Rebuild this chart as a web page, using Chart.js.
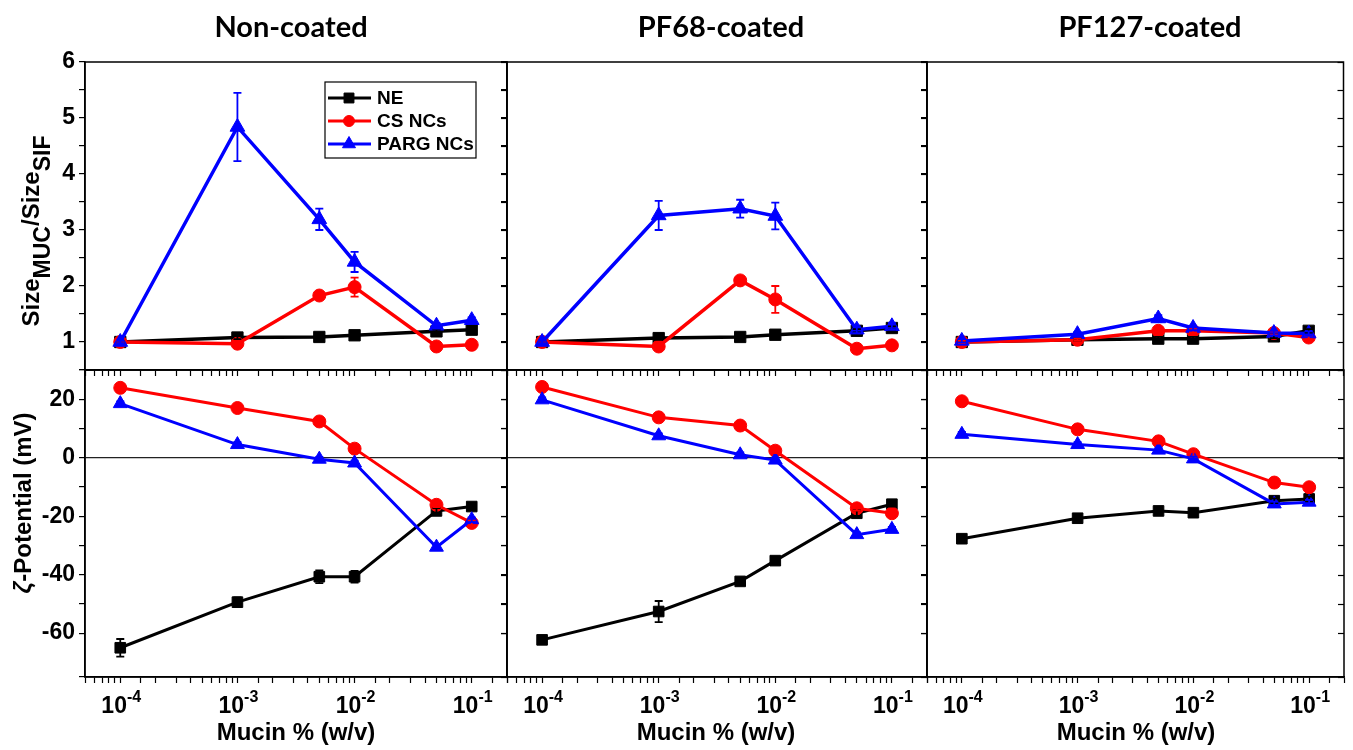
<!DOCTYPE html>
<html>
<head>
<meta charset="utf-8">
<script src="https://cdn.jsdelivr.net/npm/chart.js@4.4.0/dist/chart.umd.min.js"></script>
<style>
    body { margin: 0; background: #fff; }
    #wrap { position: relative; width: 1353px; height: 750px; overflow: hidden; }
    #wrap canvas { position: absolute; left: 0; top: 0; }
    .ptitle { position: absolute; top: 8px; line-height: 28px; font: bold 29px Lato, sans-serif; color: #000; transform: translateX(-50%); white-space: nowrap; }
    .xtitle { position: absolute; top: 718px; line-height: 24px; font: bold 24px Arial, "Liberation Sans", sans-serif; color: #000; transform: translateX(-50%); white-space: nowrap; }
    .ytitle { position: absolute; line-height: 24px; font: bold 24px Arial, "Liberation Sans", sans-serif; color: #000; transform: translate(-50%, -50%) rotate(-90deg); white-space: nowrap; }
    .ytitle sub { font-size: 23px; vertical-align: -11px; line-height: 0; }
</style>
</head>
<body>
<div id="wrap">
    <canvas id="c00" width="1353" height="750"></canvas>
    <canvas id="c10" width="1353" height="750"></canvas>
    <canvas id="c20" width="1353" height="750"></canvas>
    <canvas id="c01" width="1353" height="750"></canvas>
    <canvas id="c11" width="1353" height="750"></canvas>
    <canvas id="c21" width="1353" height="750"></canvas>

    <div class="ptitle" style="left:291px">Non-coated</div>
    <div class="ptitle" style="left:721px">PF68-coated</div>
    <div class="ptitle" style="left:1150px">PF127-coated</div>

    <div class="xtitle" style="left:296px">Mucin % (w/v)</div>
    <div class="xtitle" style="left:716px">Mucin % (w/v)</div>
    <div class="xtitle" style="left:1136px">Mucin % (w/v)</div>

    <div class="ytitle" style="left:31px; top:231px">Size<sub>MUC</sub>/Size<sub>SIF</sub></div>
    <div class="ytitle" style="left:23px; top:503px"><i>ζ</i>-Potential (mV)</div>
</div>

<script>
// x values (mucin concentration, % w/v)
const mucinConc = [1e-4, 1e-3, 5e-3, 1e-2, 5e-2, 1e-1];
const xTickExponents = [-4, -3, -2, -1];
const seriesLabels = ['NE', 'CS NCs', 'PARG NCs'];

// Size(MUC)/Size(SIF)
const sizeNonCoatedNE = [1.00, 1.08, 1.09, 1.12, 1.19, 1.22];
const sizeNonCoatedNEErr = [0.02, 0.03, 0.03, 0.03, 0.03, 0.03];
const sizeNonCoatedCS = [1.00, 0.97, 1.83, 1.98, 0.92, 0.95];
const sizeNonCoatedCSErr = [0.02, 0.03, 0.05, 0.17, 0.03, 0.03];
const sizeNonCoatedPARG = [1.00, 4.84, 3.19, 2.43, 1.29, 1.39];
const sizeNonCoatedPARGErr = [0.02, 0.61, 0.19, 0.18, 0.05, 0.05];

const sizePF68NE = [1.00, 1.07, 1.09, 1.13, 1.20, 1.25];
const sizePF68NEErr = [0.02, 0.03, 0.03, 0.03, 0.03, 0.03];
const sizePF68CS = [1.00, 0.92, 2.10, 1.76, 0.88, 0.94];
const sizePF68CSErr = [0.02, 0.03, 0.05, 0.24, 0.03, 0.03];
const sizePF68PARG = [1.00, 3.26, 3.38, 3.25, 1.22, 1.28];
const sizePF68PARGErr = [0.02, 0.26, 0.16, 0.24, 0.06, 0.06];

const sizePF127NE = [1.00, 1.04, 1.06, 1.06, 1.10, 1.20];
const sizePF127NEErr = [0.02, 0.02, 0.03, 0.03, 0.03, 0.03];
const sizePF127CS = [1.00, 1.04, 1.20, 1.20, 1.16, 1.08];
const sizePF127CSErr = [0.02, 0.02, 0.03, 0.03, 0.03, 0.03];
const sizePF127PARG = [1.02, 1.14, 1.42, 1.25, 1.16, 1.15];
const sizePF127PARGErr = [0.03, 0.04, 0.06, 0.04, 0.04, 0.04];

// zeta potential (mV)
const zetaNonCoatedNE = [-65.0, -49.4, -40.7, -40.7, -18.2, -16.7];
const zetaNonCoatedNEErr = [3.0, 1.6, 2.2, 2.0, 1.0, 0.8];
const zetaNonCoatedCS = [23.9, 17.0, 12.4, 3.1, -16.1, -22.3];
const zetaNonCoatedCSErr = [0.8, 0.8, 0.8, 0.8, 0.8, 0.8];
const zetaNonCoatedPARG = [18.5, 4.5, -0.5, -1.8, -30.6, -21.2];
const zetaNonCoatedPARGErr = [0.8, 0.8, 0.8, 0.8, 0.8, 0.8];

const zetaPF68NE = [-62.3, -52.6, -42.3, -35.2, -19.0, -15.9];
const zetaPF68NEErr = [0.8, 3.6, 0.8, 1.2, 1.0, 0.8];
const zetaPF68CS = [24.2, 13.8, 11.0, 2.4, -17.3, -19.0];
const zetaPF68CSErr = [0.8, 0.8, 0.8, 0.8, 0.8, 0.8];
const zetaPF68PARG = [19.8, 7.5, 1.0, -0.8, -26.3, -24.5];
const zetaPF68PARGErr = [0.8, 0.8, 0.8, 0.8, 0.8, 0.8];

const zetaPF127NE = [-27.7, -20.7, -18.2, -18.8, -14.7, -14.1];
const zetaPF127NEErr = [0.8, 0.8, 0.8, 0.8, 0.8, 0.8];
const zetaPF127CS = [19.3, 9.7, 5.6, 1.2, -8.5, -10.1];
const zetaPF127CSErr = [0.8, 0.8, 0.8, 0.8, 0.8, 0.8];
const zetaPF127PARG = [8.0, 4.5, 2.6, -0.4, -15.8, -15.2];
const zetaPF127PARGErr = [0.8, 0.8, 0.8, 0.8, 0.8, 0.8];

const sizeSets = [
    [[sizeNonCoatedNE, sizeNonCoatedNEErr], [sizeNonCoatedCS, sizeNonCoatedCSErr], [sizeNonCoatedPARG, sizeNonCoatedPARGErr]],
    [[sizePF68NE, sizePF68NEErr], [sizePF68CS, sizePF68CSErr], [sizePF68PARG, sizePF68PARGErr]],
    [[sizePF127NE, sizePF127NEErr], [sizePF127CS, sizePF127CSErr], [sizePF127PARG, sizePF127PARGErr]]
];
const zetaSets = [
    [[zetaNonCoatedNE, zetaNonCoatedNEErr], [zetaNonCoatedCS, zetaNonCoatedCSErr], [zetaNonCoatedPARG, zetaNonCoatedPARGErr]],
    [[zetaPF68NE, zetaPF68NEErr], [zetaPF68CS, zetaPF68CSErr], [zetaPF68PARG, zetaPF68PARGErr]],
    [[zetaPF127NE, zetaPF127NEErr], [zetaPF127CS, zetaPF127CSErr], [zetaPF127PARG, zetaPF127PARGErr]]
];

// look
const seriesColors = ['#000000', '#ff0000', '#0000ff'];
const seriesMarkers = ['rect', 'circle', 'triangle'];
const markerSize = [[8, 6.5, 8.5], [7.5, 6.5, 8]];
const lineWidth = [3.5, 3];

// panel frames in page pixels
const colLeft = [85, 507, 927];
const colRight = [507, 927, 1344];
const rowTop = [62, 370];
const rowBottom = [370, 677];
const Y_AXIS_W = 60;
const X_AXIS_H = 50;

const frame = {
    id: 'frame',
    afterDraw(chart) {
        const ctx = chart.ctx;
        const a = chart.chartArea;
        const ys = chart.scales.y;
        ctx.save();
        ctx.strokeStyle = '#000';
        ctx.lineWidth = 1.5;
        ctx.strokeRect(a.left, a.top, a.right - a.left, a.bottom - a.top);
        // mirror ticks on the right side, pointing in
        ctx.lineWidth = 1.2;
        ys.ticks.forEach(t => {
            const py = Math.round(ys.getPixelForValue(t.value)) + 0.5;
            ctx.beginPath();
            ctx.moveTo(a.right - 6, py);
            ctx.lineTo(a.right, py);
            ctx.stroke();
        });
        ctx.restore();
    }
};

const errorBars = {
    id: 'errorBars',
    afterDatasetsDraw(chart) {
        const ctx = chart.ctx;
        const xs = chart.scales.x, ys = chart.scales.y;
        ctx.save();
        chart.data.datasets.forEach(ds => {
            ctx.strokeStyle = ds.borderColor;
            ctx.lineWidth = 1.8;
            ds.data.forEach((pt, j) => {
                const e = ds.errors[j];
                const px = xs.getPixelForValue(pt.x);
                const top = ys.getPixelForValue(pt.y + e);
                const bot = ys.getPixelForValue(pt.y - e);
                ctx.beginPath();
                ctx.moveTo(px, top);
                ctx.lineTo(px, bot);
                ctx.moveTo(px - 4, top);
                ctx.lineTo(px + 4, top);
                ctx.moveTo(px - 4, bot);
                ctx.lineTo(px + 4, bot);
                ctx.stroke();
            });
        });
        ctx.restore();
    }
};

const decadeLabels = {
    id: 'decadeLabels',
    afterDraw(chart, args, opts) {
        if (!opts.show) return;
        const ctx = chart.ctx;
        const xs = chart.scales.x;
        const base = chart.chartArea.bottom + 36;
        ctx.save();
        ctx.fillStyle = '#000';
        ctx.textBaseline = 'alphabetic';
        ctx.textAlign = 'left';
        xTickExponents.forEach(e => {
            const px = xs.getPixelForValue(Math.pow(10, e));
            const sup = String(e);
            ctx.font = 'bold 23px Arial';
            const w1 = ctx.measureText('10').width;
            ctx.font = 'bold 16px Arial';
            const w2 = ctx.measureText(sup).width;
            const x0 = px - (w1 + w2) / 2 + 1;
            ctx.font = 'bold 23px Arial';
            ctx.fillText('10', x0, base);
            ctx.font = 'bold 16px Arial';
            ctx.fillText(sup, x0 + w1, base - 11);
        });
        ctx.restore();
    }
};

const boxLegend = {
    id: 'boxLegend',
    afterDraw(chart, args, opts) {
        if (!opts.show) return;
        const ctx = chart.ctx;
        const a = chart.chartArea;
        const bx = a.left + 240, by = a.top + 20, bw = 151, bh = 76;
        ctx.save();
        ctx.strokeStyle = '#000';
        ctx.lineWidth = 1.2;
        ctx.fillStyle = '#fff';
        ctx.fillRect(bx, by, bw, bh);
        ctx.strokeRect(bx, by, bw, bh);
        chart.data.datasets.forEach((ds, i) => {
            const cy = by + 16 + i * 23;
            ctx.strokeStyle = ds.borderColor;
            ctx.lineWidth = 3;
            ctx.beginPath();
            ctx.moveTo(bx + 3, cy);
            ctx.lineTo(bx + 46, cy);
            ctx.stroke();
            ctx.fillStyle = ds.borderColor;
            ctx.lineWidth = 1;
            Chart.helpers.drawPoint(ctx, {
                pointStyle: ds.pointStyle, radius: ds.pointRadius - 1, rotation: 0, borderWidth: 1
            }, bx + 24, cy);
            ctx.fillStyle = '#000';
            ctx.font = 'bold 19px Arial';
            ctx.textBaseline = 'middle';
            ctx.fillText(ds.label, bx + 52, cy + 1);
        });
        ctx.restore();
    }
};

function buildDatasets(sets, row) {
    return sets.map((s, i) => ({
        label: seriesLabels[i],
        data: mucinConc.map((x, j) => ({ x: x, y: s[0][j] })),
        errors: s[1],
        borderColor: seriesColors[i],
        backgroundColor: seriesColors[i],
        pointBackgroundColor: seriesColors[i],
        pointBorderColor: seriesColors[i],
        pointStyle: seriesMarkers[i],
        pointRadius: markerSize[row][i],
        pointBorderWidth: 1,
        borderWidth: lineWidth[row],
        tension: 0,
        order: 3 - i
    }));
}

function makePanel(col, row) {
    const isSize = row === 0;
    const ctx = document.getElementById('c' + col + row);
    return new Chart(ctx, {
        type: 'line',
        data: { datasets: buildDatasets(isSize ? sizeSets[col] : zetaSets[col], row) },
        plugins: [frame, errorBars, decadeLabels, boxLegend],
        options: {
            responsive: false,
            animation: false,
            devicePixelRatio: 1,
            layout: {
                padding: {
                    left: colLeft[col] - Y_AXIS_W,
                    right: 1353 - colRight[col],
                    top: rowTop[row],
                    bottom: 750 - rowBottom[row] - X_AXIS_H
                }
            },
            plugins: {
                legend: { display: false },
                tooltip: { enabled: false },
                decadeLabels: { show: row === 1 },
                boxLegend: { show: row === 0 && col === 0 }
            },
            scales: {
                x: {
                    type: 'logarithmic',
                    min: 5e-5,
                    max: 0.2,
                    afterFit: s => { s.height = X_AXIS_H; },
                    border: { display: true, color: '#000', width: 1.5 },
                    grid: { drawOnChartArea: false, drawTicks: true, tickLength: 6, tickColor: '#000', tickWidth: 1.2 },
                    ticks: { display: false }
                },
                y: {
                    min: isSize ? 0.5 : -75,
                    max: isSize ? 6 : 30,
                    afterFit: s => { s.width = Y_AXIS_W; },
                    border: { display: true, color: '#000', width: 1.5 },
                    grid: {
                        drawOnChartArea: !isSize,
                        color: c => (c.tick && c.tick.value === 0) ? '#222' : 'rgba(0,0,0,0)',
                        lineWidth: 1.2,
                        tickLength: 6,
                        tickColor: '#000',
                        tickWidth: 1.2
                    },
                    ticks: {
                        display: col === 0,
                        stepSize: isSize ? 0.5 : 10,
                        autoSkip: false,
                        padding: 4,
                        color: '#000',
                        font: { family: 'Arial', size: 23, weight: 'bold' },
                        callback: v => isSize ? (Number.isInteger(v) ? v : '') : (v % 20 === 0 ? v : '')
                    }
                }
            }
        }
    });
}

[0, 1, 2].forEach(col => {
    makePanel(col, 0);
    makePanel(col, 1);
});
</script>
</body>
</html>
